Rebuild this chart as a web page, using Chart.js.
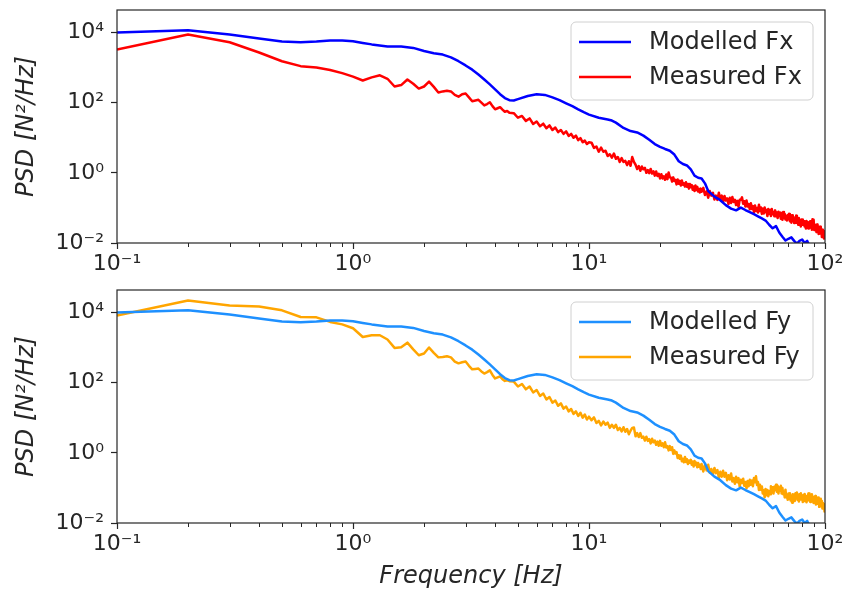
<!DOCTYPE html>
<html>
<head>
<meta charset="utf-8">
<title>Force PSD</title>
<script src="https://cdn.jsdelivr.net/npm/chart.js@4.4.1/dist/chart.umd.min.js"></script>
<style>
  html, body { margin: 0; padding: 0; background: #ffffff; }
  #wrap { position: relative; width: 847px; height: 594px; overflow: hidden; }
  #wrap canvas { position: absolute; left: 0; }
  #psdFx { top: 0; }
  #psdFy { top: 280px; }
</style>
</head>
<body>
<div id="wrap">
  <canvas id="psdFx" width="847" height="280"></canvas>
  <canvas id="psdFy" width="847" height="314"></canvas>
</div>
<script>
// ---- Data: PSD values are given as log10(N^2/Hz) ----

// Frequency grid of the modelled spectra [Hz]
const modelledFreq = [
  0.1, 0.2, 0.3, 0.4, 0.5, 0.6, 0.7, 0.8, 0.9, 1.0,
  1.1, 1.2, 1.4, 1.6, 1.8, 2.0, 2.2, 2.4, 2.6, 2.8,
  3.0, 3.2, 3.4, 3.6, 3.8, 4.0, 4.2, 4.4, 4.6, 4.8,
  5.0, 5.5, 6.0, 6.5, 7.0, 7.5, 8.0, 8.5, 9.0, 9.5,
  10, 11, 12, 12.5, 13, 14, 15, 16, 17, 18,
  19, 20, 21, 22, 23, 24, 25, 26, 27, 28,
  29, 30, 31, 32, 34, 36, 38, 40, 42, 44,
  46, 48, 50, 52, 54, 56, 58, 60, 62, 64,
  66, 68, 70, 72, 74, 76, 78, 80, 82, 84,
  86, 90, 95, 100
];

// Modelled force spectrum (same model output for Fx and Fy)
const modelledF = [
  4.00, 4.06, 3.94, 3.83, 3.74, 3.72, 3.74, 3.77, 3.77, 3.75,
  3.70, 3.66, 3.60, 3.60, 3.56, 3.47, 3.41, 3.37, 3.29, 3.18,
  3.06, 2.94, 2.80, 2.66, 2.52, 2.38, 2.24, 2.13, 2.07, 2.06,
  2.10, 2.19, 2.24, 2.22, 2.15, 2.07, 1.98, 1.90, 1.81, 1.73,
  1.66, 1.57, 1.52, 1.49, 1.43, 1.28, 1.19, 1.15, 1.06, 0.94,
  0.82, 0.74, 0.68, 0.63, 0.52, 0.33, 0.25, 0.21, 0.10, -0.08,
  -0.14, -0.16, -0.30, -0.52, -0.68, -0.78, -0.92, -1.02, -1.07, -0.99,
  -1.06, -1.12, -1.18, -1.24, -1.30, -1.36, -1.48, -1.58, -1.52, -1.70,
  -1.82, -1.93, -1.88, -1.84, -1.94, -2.02, -1.94, -1.90, -2.00, -1.94,
  -2.08, -2.18, -2.25, -2.30
];

// Frequency grid of the measured spectra [Hz]
const measuredFreq = [
  0.1, 0.2, 0.3, 0.4, 0.5, 0.6, 0.7, 0.8, 0.9, 1.0,
  1.1, 1.2, 1.3, 1.4, 1.5, 1.6, 1.7, 1.8, 1.9, 2.0,
  2.1, 2.2, 2.3, 2.4, 2.5, 2.6, 2.7, 2.8, 2.9, 3.0,
  3.1, 3.2, 3.3, 3.4, 3.5, 3.6, 3.7, 3.8, 3.9, 4.0,
  4.1, 4.2, 4.3, 4.4, 4.5, 4.6,
  4.8, 5.0, 5.2, 5.4, 5.6, 5.8, 6.0, 6.2, 6.4, 6.6,
  6.8, 7.0, 7.2, 7.4, 7.6, 7.8, 8.0, 8.2, 8.4, 8.6,
  8.8, 9.0, 9.2, 9.4, 9.6, 9.8, 10.0,
  10.25, 10.5, 10.75, 11, 11.25, 11.5, 11.75, 12, 12.25, 12.5,
  12.75, 13, 13.25, 13.5, 13.75, 14, 14.25, 14.5, 14.75, 15,
  15.25, 15.5, 15.75, 16, 16.25, 16.5, 16.75, 17, 17.25, 17.5,
  17.75, 18, 18.25, 18.5, 18.75, 19, 19.25, 19.5, 19.75, 20,
  20.25, 20.5, 20.75, 21, 21.25, 21.5, 21.75, 22, 22.25, 22.5,
  22.75, 23, 23.25, 23.5, 23.75, 24, 24.25, 24.5, 24.75, 25,
  25.25, 25.5, 25.75, 26, 26.25, 26.5, 26.75, 27, 27.25, 27.5,
  27.75, 28, 28.25, 28.5, 28.75, 29, 29.25, 29.5, 29.75, 30,
  30.5, 31, 31.5, 32, 32.5, 33, 33.5, 34, 34.5, 35,
  35.5, 36, 36.5, 37, 37.5, 38, 38.5, 39, 39.5, 40,
  40.5, 41, 41.5, 42, 42.5, 43, 43.5, 44, 44.5, 45,
  45.5, 46, 46.5, 47, 47.5, 48, 48.5, 49, 49.5, 50,
  50.5, 51, 51.5, 52, 52.5, 53, 53.5, 54, 54.5, 55,
  55.5, 56, 56.5, 57, 57.5, 58, 58.5, 59, 59.5, 60,
  60.5, 61, 61.5, 62, 62.5, 63, 63.5, 64, 64.5, 65,
  65.5, 66, 66.5, 67, 67.5, 68, 68.5, 69, 69.5, 70,
  70.5, 71, 71.5, 72, 72.5, 73, 73.5, 74, 74.5, 75,
  75.5, 76, 76.5, 77, 77.5, 78, 78.5, 79, 79.5, 80,
  80.5, 81, 81.5, 82, 82.5, 83, 83.5, 84, 84.5, 85,
  85.5, 86, 86.5, 87, 87.5, 88, 88.5, 89, 89.5, 90,
  90.5, 91, 91.5, 92, 92.5, 93, 93.5, 94, 94.5, 95,
  95.5, 96, 96.5, 97, 97.5, 98, 98.5, 99, 99.5, 100
];

// Measured Fx spectrum
const measuredFx = [
  3.51, 3.94, 3.72, 3.43, 3.18, 3.04, 3.00, 2.93, 2.84, 2.74,
  2.63, 2.72, 2.78, 2.68, 2.46, 2.50, 2.66, 2.54, 2.40, 2.46,
  2.60, 2.45, 2.29, 2.32, 2.34, 2.32, 2.22, 2.17, 2.24, 2.26,
  2.15, 2.04, 2.06, 2.08, 2.00, 1.92, 1.96, 2.01, 1.90, 1.81,
  1.84, 1.87, 1.80, 1.74, 1.76, 1.71,
  1.70, 1.57, 1.62, 1.48, 1.55, 1.39, 1.46, 1.33, 1.40, 1.27,
  1.35, 1.22, 1.29, 1.16, 1.22, 1.11, 1.18, 1.05, 1.11, 1.00,
  1.06, 0.93, 0.99, 0.87, 0.92, 0.82, 0.87,
  0.86, 0.71, 0.75, 0.60, 0.72, 0.60, 0.63, 0.48, 0.53, 0.43,
  0.55, 0.40, 0.45, 0.31, 0.42, 0.31, 0.34, 0.22, 0.33, 0.20,
  0.45, 0.31, 0.23, 0.11, 0.19, 0.06, 0.18, 0.10, 0.14, 0.00,
  0.08, -0.01, 0.11, -0.02, 0.04, -0.08, 0.04, -0.09, -0.03, -0.16,
  -0.04, -0.16, -0.10, -0.20, -0.05, -0.18, 0.01, -0.13, -0.14, -0.25,
  -0.13, -0.23, -0.20, -0.33, -0.19, -0.31, -0.23, -0.36, -0.22, -0.34,
  -0.30, -0.39, -0.27, -0.40, -0.32, -0.45, -0.32, -0.41, -0.35, -0.48,
  -0.39, -0.52, -0.36, -0.49, -0.40, -0.53, -0.46, -0.56, -0.45, -0.54,
  -0.43, -0.63, -0.53, -0.71, -0.52, -0.65, -0.57, -0.76, -0.65, -0.77,
  -0.57, -0.75, -0.65, -0.82, -0.66, -0.79, -0.73, -0.89, -0.71, -0.86,
  -0.69, -0.83, -0.77, -0.92, -0.80, -0.97, -0.77, -0.77, -0.70, -0.88,
  -0.81, -0.96, -0.79, -0.96, -0.89, -1.04, -0.87, -1.03, -0.95, -1.12,
  -0.93, -1.09, -1.00, -1.13, -0.91, -1.09, -0.99, -1.17, -1.02, -1.16,
  -0.99, -1.12, -1.06, -1.23, -1.03, -1.17, -1.06, -1.23, -1.03, -1.18,
  -1.12, -1.24, -1.07, -1.24, -1.13, -1.29, -1.11, -1.23, -1.14, -1.31,
  -1.18, -1.34, -1.12, -1.29, -1.17, -1.33, -1.23, -1.36, -1.20, -1.32,
  -1.17, -1.38, -1.25, -1.42, -1.21, -1.34, -1.26, -1.43, -1.31, -1.42,
  -1.22, -1.42, -1.30, -1.48, -1.29, -1.43, -1.36, -1.53, -1.33, -1.48,
  -1.33, -1.46, -1.38, -1.53, -1.40, -1.59, -1.37, -1.49, -1.40, -1.59,
  -1.45, -1.57, -1.38, -1.56, -1.46, -1.62, -1.32, -1.41, -1.34, -1.63,
  -1.47, -1.64, -1.53, -1.69, -1.47, -1.65, -1.53, -1.74, -1.57, -1.73,
  -1.54, -1.70, -1.63, -1.83, -1.62, -1.78, -1.66, -1.87, -1.70, -1.90
];

// Measured Fy spectrum
const measuredFy = [
  3.91, 4.34, 4.20, 4.17, 4.06, 3.87, 3.86, 3.73, 3.66, 3.55,
  3.30, 3.35, 3.35, 3.23, 2.99, 3.01, 3.14, 2.95, 2.78, 2.83,
  3.00, 2.85, 2.72, 2.73, 2.75, 2.72, 2.60, 2.55, 2.58, 2.60,
  2.48, 2.38, 2.39, 2.40, 2.32, 2.26, 2.30, 2.35, 2.22, 2.12,
  2.15, 2.18, 2.10, 2.05, 2.07, 2.04,
  2.03, 1.89, 1.96, 1.81, 1.89, 1.72, 1.79, 1.62, 1.69, 1.52,
  1.59, 1.43, 1.49, 1.34, 1.41, 1.26, 1.32, 1.18, 1.25, 1.11,
  1.18, 1.05, 1.14, 1.00, 1.09, 0.95, 1.03,
  0.93, 1.01, 0.85, 0.91, 0.78, 0.89, 0.80, 0.86, 0.71, 0.80,
  0.71, 0.80, 0.65, 0.71, 0.61, 0.73, 0.60, 0.68, 0.53, 0.63,
  0.71, 0.72, 0.47, 0.56, 0.45, 0.56, 0.43, 0.46, 0.35, 0.46,
  0.34, 0.39, 0.27, 0.40, 0.30, 0.35, 0.23, 0.32, 0.20, 0.34,
  0.20, 0.27, 0.16, 0.30, 0.15, 0.19, 0.07, 0.19, 0.08, 0.16,
  -0.03, 0.07, -0.02, 0.02, -0.15, -0.07, -0.17, -0.08, -0.24, -0.17,
  -0.27, -0.12, -0.26, -0.18, -0.32, -0.22, -0.28, -0.20, -0.34, -0.25,
  -0.39, -0.23, -0.35, -0.28, -0.41, -0.29, -0.40, -0.34, -0.46, -0.32,
  -0.53, -0.34, -0.50, -0.34, -0.57, -0.46, -0.62, -0.43, -0.58, -0.49,
  -0.71, -0.54, -0.68, -0.51, -0.68, -0.57, -0.78, -0.64, -0.76, -0.59,
  -0.82, -0.72, -0.88, -0.68, -0.84, -0.72, -0.96, -0.77, -0.86, -0.74,
  -0.94, -0.83, -1.01, -0.80, -0.95, -0.77, -0.91, -0.79, -0.95, -0.72,
  -0.84, -0.67, -0.92, -0.83, -1.06, -0.91, -1.05, -0.96, -1.16, -1.07,
  -1.27, -1.03, -1.21, -1.06, -1.24, -1.09, -1.18, -0.95, -1.11, -0.98,
  -1.16, -0.97, -1.06, -0.91, -1.11, -0.94, -1.16, -0.99, -1.08, -0.94,
  -1.16, -1.00, -1.18, -1.10, -1.27, -1.05, -1.27, -1.19, -1.34, -1.16,
  -1.31, -1.15, -1.36, -1.22, -1.42, -1.18, -1.31, -1.19, -1.37, -1.15,
  -1.27, -1.13, -1.34, -1.20, -1.39, -1.18, -1.33, -1.15, -1.32, -1.22,
  -1.40, -1.20, -1.37, -1.17, -1.35, -1.22, -1.41, -1.24, -1.36, -1.16,
  -1.29, -1.16, -1.40, -1.21, -1.35, -1.18, -1.39, -1.27, -1.43, -1.25,
  -1.39, -1.23, -1.47, -1.31, -1.45, -1.28, -1.43, -1.27, -1.54, -1.33,
  -1.50, -1.31, -1.46, -1.37, -1.59, -1.43, -1.59, -1.46, -1.67, -1.66
];

// Axis ticks
const xTickValues = [0.1, 1, 10, 100];
const xTickLabels = ['10\u207B\u00B9', '10\u2070', '10\u00B9', '10\u00B2'];
const xMinorTicks = [0.2, 0.3, 0.4, 0.5, 0.6, 0.7, 0.8, 0.9,
                     2, 3, 4, 5, 6, 7, 8, 9,
                     20, 30, 40, 50, 60, 70, 80, 90];
const yTickValues = [1e-2, 1, 1e2, 1e4];
const yTickLabels = ['10\u207B\u00B2', '10\u2070', '10\u00B2', '10\u2074'];

// ---- Styling ----
const INK = '#262626';
const FONT = 'DejaVu Sans';
const LINE_W = 2.5;
Chart.defaults.font.family = FONT;
Chart.defaults.color = INK;

const toPoints = (freq, logPsd) =>
  freq.map((f, i) => ({ x: f, y: Math.pow(10, logPsd[i]) }));

// Axes frame and minor x ticks (log decades 2..9)
const framePlugin = {
  id: 'frame',
  afterDatasetsDraw(chart) {
    const { ctx, chartArea: a } = chart;
    const xs = chart.scales.x;
    ctx.save();
    ctx.strokeStyle = INK;
    ctx.lineWidth = 1.2;
    ctx.strokeRect(a.left, a.top, a.right - a.left, a.bottom - a.top);
    ctx.lineWidth = 1;
    ctx.beginPath();
    xMinorTicks.forEach(v => {
      const px = Math.round(xs.getPixelForValue(v)) + 0.5;
      ctx.moveTo(px, a.bottom);
      ctx.lineTo(px, a.bottom + 4);
    });
    ctx.stroke();
    ctx.restore();
  }
};

// Framed legend in the upper right of the plot area
const legendPlugin = {
  id: 'psdLegend',
  afterDraw(chart) {
    const { ctx, chartArea: a } = chart;
    const w = 242, h = 78, r = 5;
    const x = a.right - 12 - w, y = a.top + 12;
    ctx.save();
    ctx.beginPath();
    ctx.moveTo(x + r, y);
    ctx.arcTo(x + w, y, x + w, y + h, r);
    ctx.arcTo(x + w, y + h, x, y + h, r);
    ctx.arcTo(x, y + h, x, y, r);
    ctx.arcTo(x, y, x + w, y, r);
    ctx.closePath();
    ctx.fillStyle = 'rgba(255,255,255,0.8)';
    ctx.fill();
    ctx.strokeStyle = '#d0d0d0';
    ctx.lineWidth = 1;
    ctx.stroke();
    chart.data.datasets.forEach((ds, i) => {
      const cy = y + 20 + i * 35;
      ctx.beginPath();
      ctx.strokeStyle = ds.borderColor;
      ctx.lineWidth = LINE_W;
      ctx.moveTo(x + 8, cy);
      ctx.lineTo(x + 60, cy);
      ctx.stroke();
      ctx.fillStyle = INK;
      ctx.font = '24px "' + FONT + '"';
      ctx.textBaseline = 'middle';
      ctx.textAlign = 'left';
      ctx.fillText(ds.label, x + 78, cy + 1);
    });
    ctx.restore();
  }
};

function makePsdChart(canvasId, series, xAxisHeight, xTitle) {
  return new Chart(document.getElementById(canvasId), {
    type: 'line',
    data: {
      datasets: series.map(s => ({
        label: s.label,
        data: toPoints(s.freq, s.values),
        borderColor: s.color,
        backgroundColor: s.color,
        borderWidth: LINE_W,
        borderJoinStyle: 'round',
        pointRadius: 0,
        tension: 0,
        fill: false
      }))
    },
    options: {
      responsive: false,
      animation: false,
      devicePixelRatio: 1,
      events: [],
      layout: { padding: { left: 9, top: 10, right: 22, bottom: 0 } },
      plugins: { legend: { display: false }, tooltip: { enabled: false } },
      scales: {
        x: {
          type: 'logarithmic',
          min: 0.1,
          max: 100,
          afterFit: s => {
            s.height = xAxisHeight;
            s.paddingLeft = 0;
            s.paddingRight = 0;
          },
          afterBuildTicks: s => { s.ticks = xTickValues.map(v => ({ value: v })); },
          ticks: {
            autoSkip: false,
            maxRotation: 0,
            padding: 2,
            color: INK,
            font: { size: 22 },
            callback: (v, i) => xTickLabels[i]
          },
          grid: { drawOnChartArea: false, drawTicks: true, tickLength: 6, tickColor: INK, tickWidth: 1.2 },
          border: { display: false },
          title: {
            display: !!xTitle,
            text: xTitle || '',
            color: INK,
            font: { size: 24, style: 'italic' },
            padding: { top: 0, bottom: 3 }
          }
        },
        y: {
          type: 'logarithmic',
          min: 1e-2,
          max: Math.pow(10, 4.64),
          afterFit: s => {
            s.width = 108;
            s.paddingTop = 0;
            s.paddingBottom = 0;
          },
          afterBuildTicks: s => { s.ticks = yTickValues.map(v => ({ value: v })); },
          ticks: {
            autoSkip: false,
            padding: 7,
            color: INK,
            font: { size: 22 },
            callback: (v, i) => yTickLabels[i]
          },
          grid: { drawOnChartArea: false, drawTicks: true, tickLength: 6, tickColor: INK, tickWidth: 1.2 },
          border: { display: false },
          title: {
            display: true,
            text: 'PSD [N\u00B2/Hz]',
            color: INK,
            font: { size: 24, style: 'italic' },
            padding: { top: 3, bottom: 0 }
          }
        }
      }
    },
    plugins: [framePlugin, legendPlugin]
  });
}

makePsdChart('psdFx', [
  { label: 'Modelled Fx', freq: modelledFreq, values: modelledF, color: '#0000ff' },
  { label: 'Measured Fx', freq: measuredFreq, values: measuredFx, color: '#ff0000' }
], 37, null);

makePsdChart('psdFy', [
  { label: 'Modelled Fy', freq: modelledFreq, values: modelledF, color: '#1e90ff' },
  { label: 'Measured Fy', freq: measuredFreq, values: measuredFy, color: '#ffa500' }
], 71, 'Frequency [Hz]');
</script>
</body>
</html>
